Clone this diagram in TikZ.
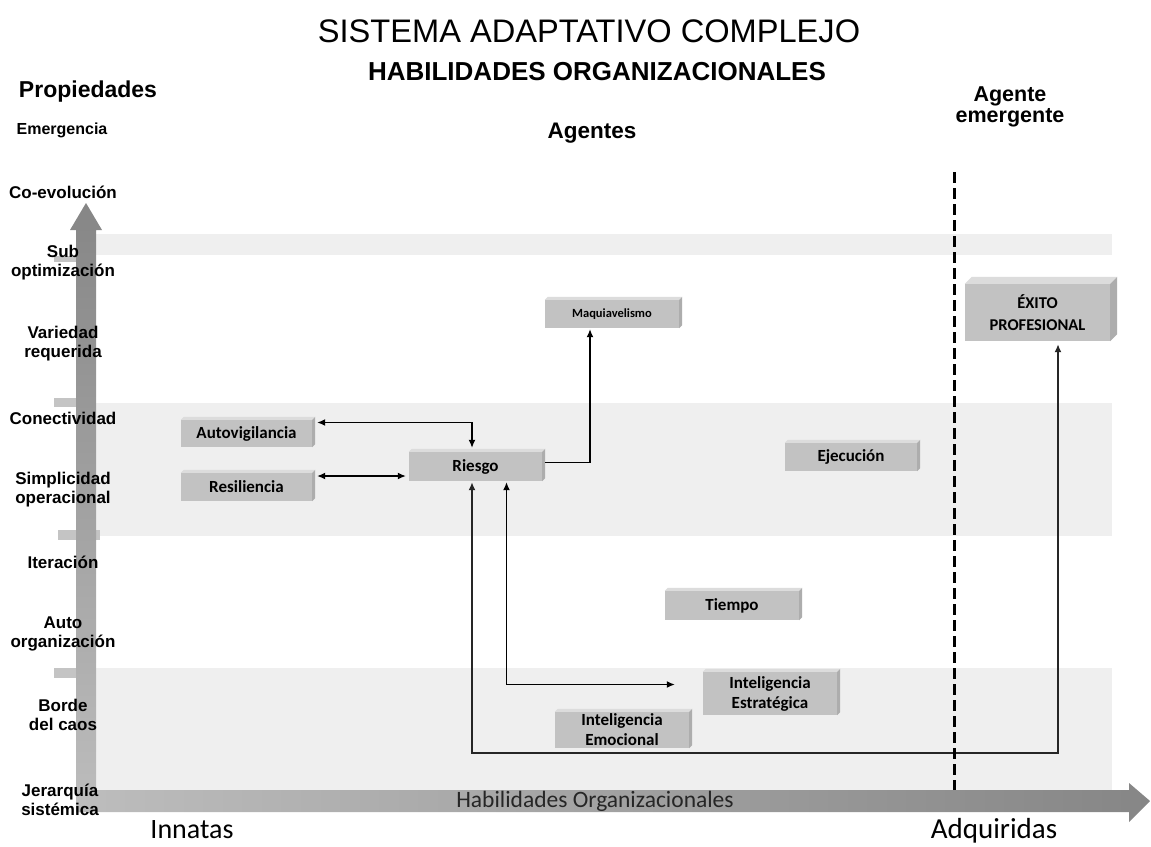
\documentclass[tikz,border=0pt]{standalone}
\usepackage{fontspec}
\setmainfont{Liberation Sans}
\newfontfamily\boxfont{Carlito}
\usetikzlibrary{arrows.meta,calc}

\definecolor{bandgray}{HTML}{EFEFEF}
\definecolor{boxgray}{HTML}{C2C2C2}
\definecolor{boxtopgray}{HTML}{DCDCDC}
\definecolor{boxsidegray}{HTML}{ADADAD}
\definecolor{axislight}{HTML}{BDBDBD}
\definecolor{axisdark}{HTML}{868686}
\definecolor{tickgray}{HTML}{C4C4C4}

% extruded look of a box: top face and right face of depth #2
\newcommand\boxbevel[2]{%
  \fill[boxtopgray] (#1.north west) -- ++(#2,-#2) -- ($(#1.north east)+(#2,-#2)$) -- (#1.north east) -- cycle;
  \fill[boxsidegray] (#1.north east) -- ++(#2,-#2) -- ($(#1.south east)+(#2,-#2)$) -- (#1.south east) -- cycle;
}

\tikzset{
  prop/.style={font=\fontsize{17}{19}\selectfont\bfseries, align=center, inner sep=0pt},
  agentbox/.style={fill=boxgray, inner sep=0pt, align=center,
    font=\boxfont\bfseries\fontsize{17}{20}\selectfont},
  link/.style={line width=1.3pt, black, -{Latex[length=8pt,width=7pt]}},
  bilink/.style={line width=1.3pt, black, {Latex[length=8pt,width=7pt]}-{Latex[length=8pt,width=7pt]}},
  band/.style={fill=bandgray},
  axistick/.style={fill=tickgray},
}

\begin{document}
\begin{tikzpicture}[x=1pt,y=-1pt]
\useasboundingbox (0,0) rectangle (1151,846);
\fill[white] (0,0) rectangle (1151,846);

% horizontal background bands
\fill[band] (96,234) rectangle (1112,255);
\fill[band] (96,403) rectangle (1112,536);
\fill[band] (96,668) rectangle (1112,790);

% small ticks at the band edges along the vertical axis
\fill[axistick] (54,256) rectangle (77,262);
\fill[axistick] (54,398) rectangle (77,407);
\fill[axistick] (58,530) rectangle (100,540);
\fill[axistick] (54,668) rectangle (77,678);

% vertical axis arrow
\shade[top color=axisdark, bottom color=axislight]
  (76,812) -- (76,230) -- (70,230) -- (86,203) -- (102,230) -- (96,230) -- (96,812) -- cycle;
% horizontal axis arrow
\shade[left color=axislight, right color=axisdark]
  (76,790) -- (1129,790) -- (1129,783) -- (1150,801) -- (1129,822) -- (1129,812) -- (76,812) -- cycle;

% titles
\node[font=\fontsize{32.6}{36}\selectfont] (title) at (589,31) {SISTEMA ADAPTATIVO COMPLEJO};
\node[font=\fontsize{26}{28}\selectfont\bfseries] (subtitle) at (597,72) {HABILIDADES ORGANIZACIONALES};
\node[font=\fontsize{22.5}{24}\selectfont\bfseries] (agentes) at (592,133) {Agentes};
\node[font=\fontsize{23}{24}\selectfont\bfseries] (propiedades) at (88,92) {Propiedades};
\node[font=\fontsize{21.5}{21}\selectfont\bfseries, align=center] (emergente) at (1010,107) {Agente\\emergente};

% properties along the vertical axis
\node[prop, font=\fontsize{16}{19}\selectfont\bfseries] (emer) at (62,130) {Emergencia};
\node[prop] (coev) at (63,192) {Co-evolución};
\node[prop] (subopt) at (63,263) {Sub\\optimización};
\node[prop] (varreq) at (63,344) {Variedad\\requerida};
\node[prop] (conect) at (63,418) {Conectividad};
\node[prop] (simpl) at (63,490) {Simplicidad\\operacional};
\node[prop] (iter) at (63,562) {Iteración};
\node[prop] (autoorg) at (63,634) {Auto\\organización};
\node[prop] (borde) at (63,715) {Borde\\del caos};
\node[prop] (jerarq) at (60,800) {Jerarquía\\sistémica};

% horizontal axis texts
\node[font=\boxfont\fontsize{23.5}{24}\selectfont, text=black!85] (habaxis) at (595,801) {Habilidades Organizacionales};
\node[font=\boxfont\fontsize{28}{30}\selectfont, anchor=base, inner sep=0pt] (innatas) at (192,838) {Innatas};
\node[font=\boxfont\fontsize{29}{30}\selectfont, anchor=base, inner sep=0pt] (adquiridas) at (994,838) {Adquiridas};

% agent boxes
\node[agentbox, minimum width=134, minimum height=28, font=\boxfont\bfseries\fontsize{12.5}{14}\selectfont] (maq) at (612,314) {Maquiavelismo};
\node[agentbox, minimum width=145, minimum height=57, font=\boxfont\bfseries\fontsize{16.5}{22}\selectfont] (exito) at (1037.5,312.5) {ÉXITO\\PROFESIONAL};
\node[agentbox, minimum width=131, minimum height=27] (auto) at (246.5,433.5) {Autovigilancia};
\node[agentbox, minimum width=131, minimum height=28] (resil) at (246.5,487) {Resiliencia};
\node[agentbox, minimum width=133, minimum height=29] (riesgo) at (475.5,466.5) {Riesgo};
\node[agentbox, minimum width=132, minimum height=28] (ejec) at (851,457) {Ejecución};
\node[agentbox, minimum width=134, minimum height=29] (tiempo) at (732,605.5) {Tiempo};
\node[agentbox, minimum width=134, minimum height=43] (iestr) at (770,693.5) {Inteligencia\\Estratégica};
\node[agentbox, minimum width=134, minimum height=36] (iemoc) at (622,730) {Inteligencia\\Emocional};

\boxbevel{maq}{3}
\boxbevel{exito}{7}
\boxbevel{auto}{3}
\boxbevel{resil}{3}
\boxbevel{riesgo}{3}
\boxbevel{ejec}{3}
\boxbevel{tiempo}{3}
\boxbevel{iestr}{3}
\boxbevel{iemoc}{3}

% connectors
\draw[bilink] ($(auto.east)+(5,-11)$) -| ($(riesgo.north)+(-3.5,-4)$);
\draw[bilink] ($(resil.east)+(5,-11)$) -- ($(riesgo.west |- resil.east)+(-3,-11)$);
\draw[link] ($(riesgo.east)+(3,-4)$) -| ($(maq.south)+(-22,1)$);
\draw[bilink] ($(riesgo.south)+(31,1)$) |- ($(iestr.west)+(-28,-9)$);
\coordinate (lowrun) at (700,753);
\draw[bilink, line width=1.8pt, black!85] ($(riesgo.south)+(-3.5,1)$) |- (lowrun) -| ($(exito.south)+(20.5,3)$);

% boundary between innate and acquired skills
\draw[line width=3pt, dash pattern=on 11pt off 5pt] (954,172) -- (954,790);
\end{tikzpicture}
\end{document}
